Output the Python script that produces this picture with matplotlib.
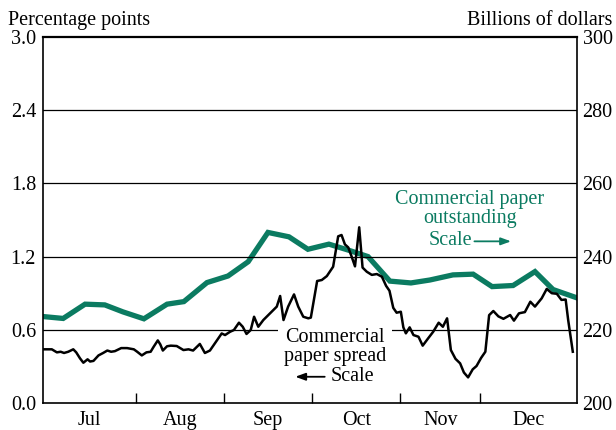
import numpy as np
import matplotlib
matplotlib.use("Agg")
import matplotlib.pyplot as plt

plt.rcParams['font.family'] = ['Liberation Serif', 'DejaVu Serif']

# x axis in business days since Jul 1
month_names = ['Jul', 'Aug', 'Sep', 'Oct', 'Nov', 'Dec']
month_edges = [0, 22, 43, 64, 85, 104, 127]

# commercial paper spread, percentage points (left scale)
spread_x = [0.1, 2.1, 3.3, 4.2, 5.0, 6.0, 7.2, 7.9, 8.8, 9.6, 10.6, 11.2, 12.0,
            13.2, 14.3, 15.3, 16.2, 17.1, 18.6, 20.0, 21.6, 22.4, 23.5, 24.6,
            25.6, 26.3, 27.3, 27.9, 28.5, 29.5, 30.4, 31.8, 33.4, 34.6, 35.7,
            37.3, 38.5, 39.7, 40.9, 42.5, 43.3, 44.5, 45.4, 46.6, 47.5, 48.4,
            49.4, 50.2, 51.2, 52.4, 54.0, 55.6, 56.4, 57.2, 58.3, 59.7, 60.7,
            61.9, 63.1, 63.7, 65.2, 66.3, 67.5, 69.0, 70.2, 71.0, 71.8, 72.6,
            73.4, 74.2, 75.2, 76.0, 77.0, 78.2, 79.4, 80.6, 81.6, 82.4, 83.3,
            84.1, 85.1, 85.7, 86.3, 87.2, 88.1, 89.3, 90.3, 91.6, 92.8, 94.1,
            95.1, 96.1, 97.0, 98.1, 99.2, 100.1, 101.1, 102.2, 103.1, 104.2,
            105.2, 106.1, 107.1, 108.3, 109.5, 111.1, 112.0, 113.2, 114.6,
            115.9, 117.0, 118.6, 119.8, 121.0, 122.2, 123.3, 124.3, 124.9, 126.0]
spread = [0.44, 0.44, 0.415, 0.42, 0.41, 0.42, 0.44, 0.415, 0.366, 0.33, 0.358,
          0.34, 0.345, 0.39, 0.41, 0.43, 0.42, 0.425, 0.45, 0.45, 0.44, 0.42,
          0.39, 0.415, 0.42, 0.46, 0.513, 0.48, 0.43, 0.465, 0.47, 0.467, 0.434,
          0.44, 0.43, 0.484, 0.41, 0.43, 0.49, 0.57, 0.557, 0.584, 0.598, 0.658,
          0.625, 0.566, 0.598, 0.707, 0.625, 0.68, 0.735, 0.79, 0.877, 0.68,
          0.79, 0.89, 0.79, 0.707, 0.694, 0.70, 1.0, 1.008, 1.04, 1.117, 1.366,
          1.377, 1.30, 1.275, 1.2, 1.12, 1.44, 1.11, 1.076, 1.05, 1.057, 1.035,
          0.96, 0.92, 0.78, 0.74, 0.748, 0.62, 0.571, 0.62, 0.557, 0.543, 0.47,
          0.53, 0.584, 0.658, 0.625, 0.694, 0.434, 0.362, 0.325, 0.25, 0.21,
          0.276, 0.303, 0.37, 0.42, 0.72, 0.754, 0.71, 0.69, 0.721, 0.675,
          0.735, 0.745, 0.83, 0.79, 0.858, 0.935, 0.9, 0.895, 0.845, 0.848,
          0.68, 0.42]

# commercial paper outstanding, billions of dollars (right scale), weekly
cp_x = [0.2, 4.8, 10.0, 14.7, 19.0, 24.0, 29.5, 33.5, 39.0, 44.0, 48.8, 53.5,
        58.5, 63.0, 68.0, 72.8, 77.3, 82.5, 87.5, 92.0, 97.5, 102.3, 106.8,
        111.8, 117.0, 121.3, 126.8]
cp_out = [223.6, 223.1, 227.0, 226.8, 224.9, 223.0, 227.0, 227.7, 232.9, 234.7,
          238.6, 246.6, 245.4, 242.0, 243.4, 241.7, 240.0, 233.3, 232.8, 233.6,
          235.0, 235.2, 231.8, 232.1, 235.9, 231.0, 228.8]

green = '#0b7b61'
fs = 14.5

fig = plt.figure(figsize=(6.16, 4.30), dpi=100)
ax = fig.add_axes([0.0698, 0.0628, 0.8669, 0.8512])
ax2 = ax.twinx()

ax2.plot(cp_x, cp_out, color=green, lw=3.8, solid_joinstyle='miter')
ax2.set_ylim(200, 300)
ax2.set_yticks([200, 220, 240, 260, 280, 300])
ax2.tick_params(axis='y', length=0, labelsize=fs, pad=4)

ax.set_zorder(ax2.get_zorder() + 1)
ax.patch.set_visible(False)

for v in [0.6, 1.2, 1.8, 2.4]:
    ax.axhline(v, color='black', lw=0.9, zorder=1)
ax.plot(spread_x, spread, color='black', lw=1.8, zorder=3)

ax.set_xlim(month_edges[0], month_edges[-1])
ax.set_ylim(0, 3.0)
ax.set_yticks([0.0, 0.6, 1.2, 1.8, 2.4, 3.0])
ax.set_yticklabels(['%.1f' % t for t in [0.0, 0.6, 1.2, 1.8, 2.4, 3.0]])
ax.tick_params(axis='y', length=0, labelsize=fs, pad=5)

centers = [(month_edges[i] + month_edges[i + 1]) / 2 for i in range(6)]
ax.set_xticks(month_edges[1:-1])
ax.set_xticklabels([])
ax.set_xticks(centers, minor=True)
ax.set_xticklabels(month_names, minor=True)
ax.tick_params(axis='x', which='major', direction='in', length=7, width=1)
ax.tick_params(axis='x', which='minor', length=0, labelsize=fs, pad=6)

for sp in ax.spines.values():
    sp.set_linewidth(1.2)
ax.spines['top'].set_linewidth(1.6)
for sp in ax2.spines.values():
    sp.set_visible(False)

# labels for the two series
ax.text(101.5, 1.59, 'Commercial paper\noutstanding', color=green,
        fontsize=fs, ha='center', va='center', linespacing=1.0)
ax.text(96.8, 1.33, 'Scale', color=green, fontsize=fs, ha='center', va='center')
ax.annotate('', xy=(111.3, 1.325), xytext=(102.6, 1.325),
            arrowprops=dict(arrowstyle='-|>,head_length=0.6,head_width=0.22',
                            color=green, lw=1.3, shrinkA=0, shrinkB=0))

ax.text(69.4, 0.455, 'Commercial\npaper spread', color='black', fontsize=fs,
        ha='center', va='center', linespacing=1.0, zorder=2,
        bbox=dict(facecolor='white', edgecolor='none', pad=4))
ax.text(73.6, 0.22, 'Scale', color='black', fontsize=fs, ha='center', va='center')
ax.annotate('', xy=(60.0, 0.215), xytext=(67.0, 0.215),
            arrowprops=dict(arrowstyle='-|>,head_length=0.6,head_width=0.22',
                            color='black', lw=1.3, shrinkA=0, shrinkB=0))

fig.text(0.013, 0.953, 'Percentage points', fontsize=fs, ha='left', va='center')
fig.text(0.994, 0.953, 'Billions of dollars', fontsize=fs, ha='right', va='center')

fig.savefig('out.png', dpi=100)
